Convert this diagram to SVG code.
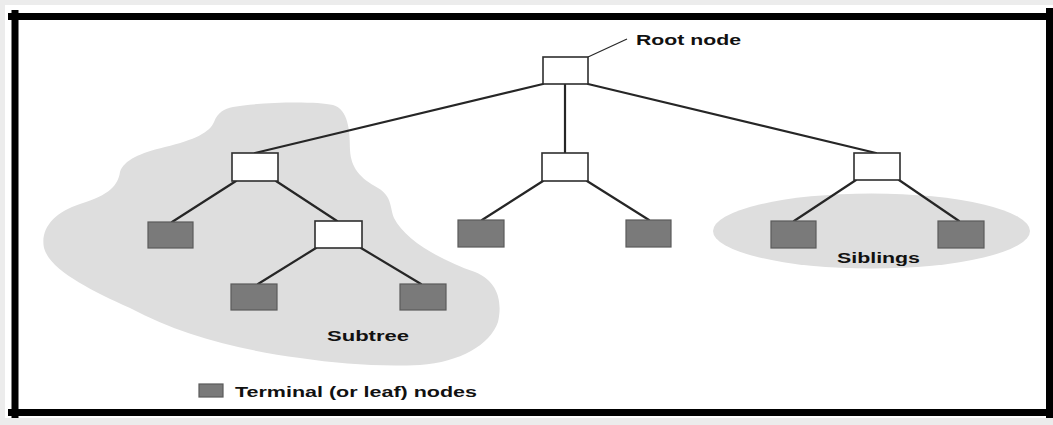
<svg xmlns="http://www.w3.org/2000/svg" width="1053" height="425" viewBox="0 0 1053 425">
<style>
.inner{fill:#ffffff;stroke:#2e2e2e;stroke-width:1.6}
.leaf{fill:#7a7a7a;stroke:#5a5a5a;stroke-width:1.2}
.edge{stroke:#262626;stroke-width:2.2;fill:none;stroke-linecap:round}
.region{fill:#dedede}
.frame{stroke:#000;stroke-width:7;fill:none}
text{font-family:"Liberation Sans",Arial,sans-serif;fill:#111}
</style>
<rect x="0" y="0" width="1053" height="425" fill="#ececec"/>
<rect x="5" y="5" width="1048" height="413" fill="#ffffff"/>
<g id="regions">
<path class="region" d="M 233,107 C 260,102 315,101 333,105 C 348,109 350,130 350,150 C 351,168 360,178 378,188 C 392,196 390,208 394,218 C 405,240 440,260 475,272 C 500,282 502,305 498,322 C 490,345 460,362 420,365 C 380,367 340,364 300,358 C 240,350 180,335 130,308 C 90,290 50,270 44,248 C 40,228 55,212 80,204 C 110,195 118,185 120,172 C 124,160 140,153 165,147 C 195,140 210,132 214,122 C 218,112 224,109 233,107 Z"/>
<ellipse class="region" cx="871.5" cy="231" rx="158.5" ry="37.5"/>
</g>
<g id="frame">
<line class="frame" x1="8" y1="16.5" x2="1053" y2="16.5"/>
<line class="frame" x1="8" y1="412.5" x2="1053" y2="412.5"/>
<line class="frame" x1="15" y1="10" x2="15" y2="418"/>
<line class="frame" x1="1049.5" y1="8" x2="1049.5" y2="418"/>
</g>
<g id="connectors">
<line class="edge" x1="543" y1="84" x2="255" y2="153"/>
<line class="edge" x1="565" y1="84" x2="565" y2="153"/>
<line class="edge" x1="588" y1="84" x2="876" y2="153"/>
<line class="edge" x1="236" y1="181" x2="172" y2="222"/>
<line class="edge" x1="276" y1="181" x2="337" y2="221"/>
<line class="edge" x1="316" y1="248" x2="258" y2="284"/>
<line class="edge" x1="361" y1="248" x2="421" y2="284"/>
<line class="edge" x1="543" y1="181" x2="482" y2="220"/>
<line class="edge" x1="587" y1="181" x2="649" y2="220"/>
<line class="edge" x1="856" y1="180" x2="794" y2="221"/>
<line class="edge" x1="899" y1="180" x2="959" y2="221"/>
<line x1="588" y1="57" x2="627" y2="39" stroke="#2a2a2a" stroke-width="1.3"/>
</g>
<g id="root"><rect class="inner" x="543" y="57" width="45" height="27"/></g>
<g id="node-left"><rect class="inner" x="232" y="153" width="46" height="28"/></g>
<g id="node-middle"><rect class="inner" x="542" y="153" width="46" height="28"/></g>
<g id="node-right"><rect class="inner" x="854" y="153" width="46" height="27"/></g>
<g id="node-subtree"><rect class="inner" x="315" y="221" width="47" height="27"/></g>
<g id="leaf-a"><rect class="leaf" x="148" y="222" width="45" height="26"/></g>
<g id="leaf-b"><rect class="leaf" x="231" y="284" width="46" height="26"/></g>
<g id="leaf-c"><rect class="leaf" x="400" y="284" width="46" height="26"/></g>
<g id="leaf-d"><rect class="leaf" x="458" y="220" width="46" height="27"/></g>
<g id="leaf-e"><rect class="leaf" x="626" y="220" width="45" height="27"/></g>
<g id="leaf-f"><rect class="leaf" x="771" y="221" width="45" height="27"/></g>
<g id="leaf-g"><rect class="leaf" x="938" y="221" width="46" height="27"/></g>
<g id="labels">
<text x="636" y="45" font-size="14" font-weight="bold" textLength="105" lengthAdjust="spacingAndGlyphs">Root node</text>
<text x="837" y="263" font-size="14" font-weight="bold" textLength="83" lengthAdjust="spacingAndGlyphs">Siblings</text>
<text x="327" y="341" font-size="14" font-weight="bold" textLength="82" lengthAdjust="spacingAndGlyphs">Subtree</text>
</g>
<g id="legend">
<rect class="leaf" x="199" y="384" width="24" height="13"/>
<text x="235" y="397" font-size="15" font-weight="bold" textLength="242" lengthAdjust="spacingAndGlyphs">Terminal (or leaf) nodes</text>
</g>
</svg>
